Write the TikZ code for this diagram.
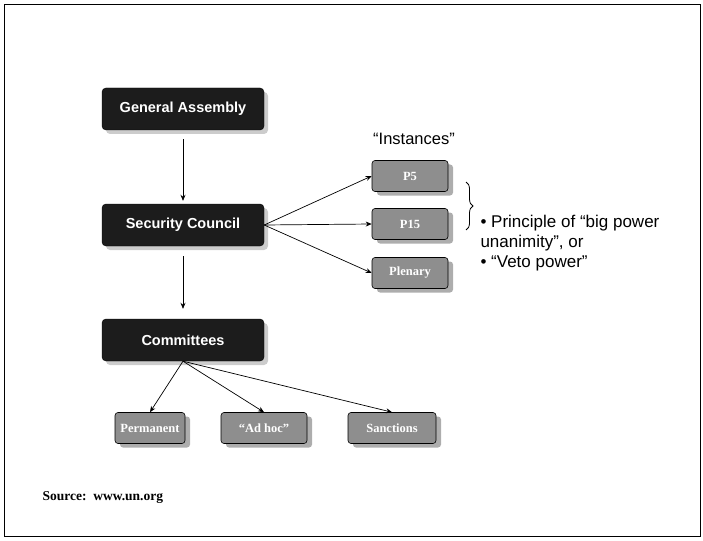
\documentclass[tikz,border=0pt]{standalone}
\usepackage{fontspec}
\setmainfont{Liberation Serif}
\setsansfont{Liberation Sans}
\usetikzlibrary{positioning,arrows.meta,shadows,decorations.pathreplacing}
\definecolor{ink}{HTML}{1C1C1C}
\definecolor{slate}{HTML}{8E8E8E}
\definecolor{shade}{HTML}{5C5C5C}
\definecolor{haze}{HTML}{9A9A9A}

\begin{document}
\begin{tikzpicture}[x=1pt,y=-1pt,
  font=\sffamily,
  >={Stealth[length=6pt,width=5pt]},
  organ/.style={draw=black,fill=ink,text=white,rounded corners=4pt,
                font=\sffamily\bfseries\fontsize{14.5}{16}\selectfont,
                minimum width=162pt,minimum height=42pt,inner sep=0pt,
                drop shadow={shadow xshift=4pt,shadow yshift=-4pt,fill=haze}},
  inst/.style={draw=black,fill=slate,text=white,rounded corners=3pt,
               font=\rmfamily\bfseries\fontsize{12.5}{14}\selectfont,
               minimum height=31pt,inner sep=0pt,line width=0.6pt,
               drop shadow={shadow xshift=5pt,shadow yshift=-4pt,fill=shade}},
  fl/.style={->,draw=black,line width=0.7pt},
  note/.style={font=\sffamily\fontsize{17}{20}\selectfont,align=left},
]
\useasboundingbox (0,0) rectangle (703,540);
\draw[line width=1pt] (4,5) rectangle (700,536);

%---------------------------------------------------------------- organs ---
\node[organ] (ga)   at (183,109) {General Assembly};
\node[organ] (sc)   at (183,225) {Security Council};
\node[organ] (comm) at (183,340) {Committees};

\draw[fl,shorten <=9pt,shorten >=3pt]  (ga.south) -- (sc.north);
\draw[fl,shorten <=10pt,shorten >=10pt] (sc.south) -- (comm.north);

%------------------------------------------------------------- instances ---
\node[note,font=\sffamily\fontsize{16.5}{19}\selectfont] (instlbl) at (414,139)
  {“Instances”};
\foreach \nm/\txt/\yy in {p5/P5/176, p15/P15/224, plen/Plenary/273}{
  \node[inst,minimum width=76pt] (\nm) at (410,\yy) {\txt};
  \draw[fl] (sc.east) -- (\nm.west);
}

\draw[decorate,decoration={brace,amplitude=7pt},line width=0.8pt]
  (466,182) -- (466,230) coordinate[midway] (bracemid);
\node[note,anchor=north west] (veto) at (477,212)
  {• Principle of “big power\\unanimity”, or\\• “Veto power”};

%------------------------------------------------------------ committees ---
\foreach \nm/\txt/\xx/\ww in {perm/Permanent/150/70, adhoc/“Ad hoc”/264/86,
                             sanc/Sanctions/392/88}{
  \node[inst,minimum width=\ww pt] (\nm) at (\xx,428) {\txt};
  \draw[fl] (comm.south) -- (\nm.north);
}

%---------------------------------------------------------------- source ---
\node[anchor=west,font=\rmfamily\bfseries\fontsize{13.5}{16}\selectfont] (src)
  at (39,498) {Source:\ \ www.un.org};

\end{tikzpicture}
\end{document}
